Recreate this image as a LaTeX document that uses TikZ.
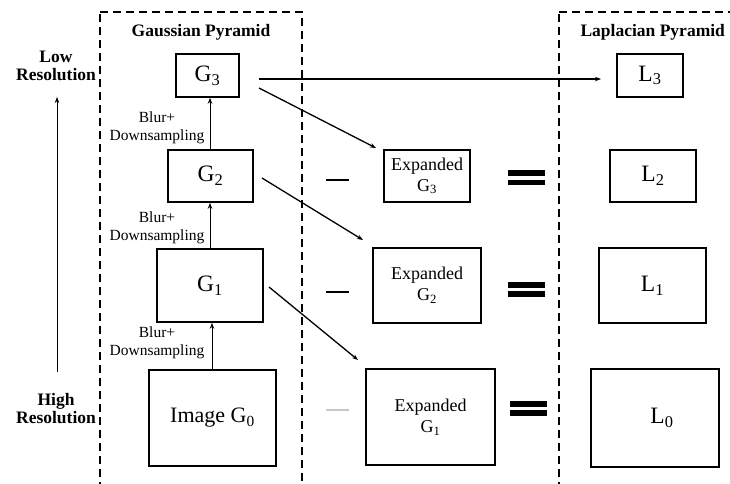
\documentclass[tikz,border=0pt]{standalone}
\usepackage{fontspec}
\setmainfont{Liberation Serif}
\usetikzlibrary{arrows.meta}
\begin{document}
\begin{tikzpicture}[x=1pt,y=-1pt,
  box/.style={draw,line width=1.6pt,inner sep=0pt,font=\fontsize{23.5}{26}\selectfont},
  ebox/.style={draw,line width=1.6pt,inner sep=0pt,align=center,font=\fontsize{18}{21}\selectfont},
  title/.style={font=\fontsize{17.5}{20}\selectfont\bfseries,align=center},
  lbl/.style={font=\fontsize{15.5}{18}\selectfont,align=center,inner sep=0pt},
  dashbox/.style={line width=1.4pt,dash pattern=on 8pt off 5pt},
  arr/.style={line width=1.3pt,-{Stealth[length=6pt,width=4.5pt]}},
  minus/.style={line width=1.3pt},
  eqbar/.style={fill=black}]
\useasboundingbox (0,0) rectangle (730,483);
% dashed frames
\draw[dashbox,line width=1.1pt] (100,490) -- (100,12);
\draw[dashbox] (100,12) -- (302,12) -- (302,490);
\draw[dashbox,line width=1.1pt] (559,490) -- (559,12);
\draw[dashbox] (559,12) -- (740,12);
% titles
\node[title] (tg) at (201,32) {Gaussian Pyramid};
\node[title,anchor=west] (tl) at (577,32) {Laplacian Pyramid};
\node[title] (lowres) at (56,66) {Low\\[-2pt]Resolution};
\node[title] (highres) at (56,409) {High\\[-2pt]Resolution};
\coordinate (rb) at (57,372);
\coordinate (rt) at (57,97);
\draw[arr,line width=1pt] (rb) -- (rt);
% Gaussian boxes
\node[box,minimum width=63pt,minimum height=43pt] (G3) at (207.5,75.5) {G\textsubscript{3}};
\node[box,minimum width=85pt,minimum height=52pt] (G2) at (210.5,176) {G\textsubscript{2}};
\node[box,minimum width=106pt,minimum height=73pt] (G1) at (210,285.5) {G\textsubscript{1}};
\node[box,minimum width=127pt,minimum height=96pt,font=\fontsize{22}{24}\selectfont] (G0) at (212.5,418) {Image G\textsubscript{0}};
% expanded boxes
\node[ebox,minimum width=86pt,minimum height=52pt] (E3) at (427,176) {Expanded\\G\textsubscript{3}};
\node[ebox,minimum width=108pt,minimum height=75pt] (E2) at (427,285.5) {Expanded\\G\textsubscript{2}};
\node[ebox,minimum width=129pt,minimum height=96pt] (E1) at (430.5,417) {Expanded\\G\textsubscript{1}};
% Laplacian boxes
\node[box,minimum width=66pt,minimum height=43pt] (L3) at (650,75.5) {\raisebox{-6pt}{L\textsubscript{3}}};
\node[box,minimum width=86pt,minimum height=52pt] (L2) at (653,176) {L\textsubscript{2}};
\node[box,minimum width=107pt,minimum height=75pt] (L1) at (652.5,285.5) {L\textsubscript{1}};
\node[box,minimum width=128pt,minimum height=98pt] (L0) at (655,418) {\hspace{14pt}L\textsubscript{0}};
% vertical arrows
\draw[arr,line width=1pt] (G0.north -| 212,0) -- (G1.south -| 212,0);
\draw[arr,line width=1pt] (G1.north -| 210,0) -- (G2.south -| 210,0);
\draw[arr,line width=1pt] (G2.north -| 210,0) -- (G3.south -| 210,0);
% labels
\node[lbl] (b1) at (157,128) {Blur+\\Downsampling};
\node[lbl] (b2) at (157,228) {Blur+\\Downsampling};
\node[lbl] (b3) at (157,343) {Blur+\\Downsampling};
% diagonal and horizontal arrows
\coordinate (s3) at (259,79);
\coordinate (t3) at (601,79);
\draw[arr] (s3) -- (t3);
\coordinate (a3) at (259,88);
\coordinate (e3) at (376,148);
\draw[arr] (a3) -- (e3);
\coordinate (a2) at (262,178);
\coordinate (e2) at (363,240);
\draw[arr] (a2) -- (e2);
\coordinate (a1) at (269,287);
\coordinate (e1) at (358,360);
\draw[arr] (a1) -- (e1);
% minus signs
\draw[minus] (326,180) -- (349,180);
\draw[minus] (326,292) -- (349,292);
\draw[minus,black!22] (326,410) -- (349,410);
% equals signs
\fill[eqbar] (508,170) rectangle (545,175.5);
\fill[eqbar] (508,179.5) rectangle (545,185);
\fill[eqbar] (508,282) rectangle (545,288);
\fill[eqbar] (508,291) rectangle (545,297);
\fill[eqbar] (510,401) rectangle (547,407);
\fill[eqbar] (510,410) rectangle (547,416);
\end{tikzpicture}
\end{document}
